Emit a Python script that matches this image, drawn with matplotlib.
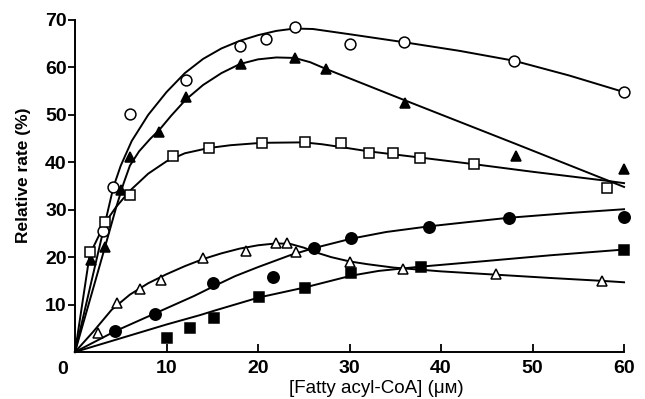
import matplotlib
matplotlib.use("Agg")
import matplotlib.pyplot as plt

plt.rcParams['font.family'] = ['Liberation Sans', 'DejaVu Sans']

# measured points (x = fatty acyl-CoA in uM, y = relative rate %)
oc_x = [3.1, 4.2, 6.0, 12.1, 18.0, 20.9, 24.0, 30.0, 36.0, 48.0, 60.0]
oc_y = [25.6, 34.7, 50.1, 57.3, 64.5, 65.9, 68.5, 65.0, 65.3, 61.4, 54.8]

ft_x = [1.8, 3.3, 5.0, 6.0, 9.2, 12.1, 18.1, 24.0, 27.4, 36.1, 48.2, 60.0]
ft_y = [19.5, 22.2, 34.2, 41.2, 46.4, 53.7, 60.7, 61.9, 59.7, 52.4, 41.4, 38.6]

os_x = [1.6, 3.3, 6.0, 10.7, 14.6, 20.4, 25.1, 29.1, 32.1, 34.7, 37.7, 43.6, 58.1]
os_y = [21.0, 27.5, 33.1, 41.3, 43.0, 44.0, 44.3, 44.0, 42.0, 42.0, 41.0, 39.6, 34.6]

ot_x = [2.5, 4.6, 7.1, 9.4, 14.0, 18.7, 22.0, 23.2, 24.2, 30.0, 35.8, 46.0, 57.6]
ot_y = [4.1, 10.3, 13.2, 15.2, 19.8, 21.2, 22.9, 22.9, 21.0, 18.9, 17.6, 16.4, 15.0]

fc_x = [4.4, 8.7, 15.1, 21.6, 26.1, 30.2, 38.7, 47.4, 60.0]
fc_y = [4.5, 8.0, 14.5, 15.9, 22.0, 24.0, 26.4, 28.3, 28.5]

fs_x = [10.1, 12.6, 15.2, 20.1, 25.1, 30.2, 37.8, 60.0]
fs_y = [2.9, 5.1, 7.2, 11.5, 13.4, 16.6, 18.0, 21.5]

# hand drawn fit curves
oc_fit_x = [0, 3.1, 4.2, 5, 6.2, 8, 10, 12, 14, 16, 18, 20, 22, 24, 26, 30, 36, 42, 48, 54, 60]
oc_fit_y = [0, 25.7, 34.8, 39.3, 44.5, 50, 54.8, 58.8, 61.8, 64, 65.6, 66.8, 67.7, 68.2, 68.1, 67, 65.3, 63.5, 61.4, 58.3, 54.8]

ft_fit_x = [0, 2, 3.3, 4.5, 5.3, 6, 7, 8.2, 9.2, 10.5, 12.1, 14, 16, 18, 20, 22, 24, 25.7, 27.4, 36, 48, 60]
ft_fit_y = [0, 13.5, 22.3, 30.5, 35.5, 39.3, 42.3, 44.9, 46.8, 49.8, 53.2, 56.3, 58.8, 60.7, 61.7, 62.1, 62, 61.1, 59.7, 53.1, 44, 34.8]

os_fit_x = [0, 1.6, 3.3, 4.5, 6, 8, 10, 12, 14.6, 17, 20.4, 25, 27, 29.1, 32.1, 37.7, 43.6, 50, 58.1, 60]
os_fit_y = [0, 20.5, 27.3, 30.6, 34, 37.6, 40.2, 41.9, 43, 43.6, 44.1, 44.2, 43.8, 43.2, 42.3, 41, 39.6, 38, 36.1, 35.6]

ot_fit_x = [0, 2, 4, 6, 8, 10, 12, 14, 16, 18, 20, 22, 23.5, 25, 26.5, 28, 30, 32, 34.8, 40, 46, 52, 57.6, 60]
ot_fit_y = [0, 4.3, 8.9, 12.1, 14.5, 16.4, 18.1, 19.6, 20.8, 21.8, 22.5, 22.9, 22.8, 22, 20.9, 20, 19.1, 18.5, 17.8, 17, 16.3, 15.6, 15, 14.7]

fc_fit_x = [0, 4.4, 8.7, 13, 15.1, 17.5, 20, 23.5, 26.1, 30.2, 34, 38.7, 43, 47.4, 54, 60]
fc_fit_y = [0, 4.4, 8.1, 11.8, 13.8, 16, 17.9, 20.4, 21.9, 23.9, 25.3, 26.5, 27.4, 28.3, 29.3, 30.1]

fs_fit_x = [0, 5, 10, 13.7, 15.2, 20.1, 25.1, 30.2, 33.2, 37.8, 45, 52, 60]
fs_fit_y = [0, 2.9, 5.8, 7.8, 8.7, 11.5, 13.6, 16.1, 17.1, 18, 19.2, 20.4, 21.6]

fig = plt.figure(figsize=(6.45, 3.99), dpi=100)
ax = fig.add_axes([0.1163, 0.1178, 0.8512, 0.8321])

for fx, fy in [(oc_fit_x, oc_fit_y), (ft_fit_x, ft_fit_y), (os_fit_x, os_fit_y),
               (ot_fit_x, ot_fit_y), (fc_fit_x, fc_fit_y), (fs_fit_x, fs_fit_y)]:
    ax.plot(fx, fy, color='black', lw=1.4, zorder=2, clip_on=False)

mk = dict(ls='none', mec='black', mew=1.1, clip_on=False, zorder=3)
ax.plot(oc_x, oc_y, marker='o', ms=7.8, mfc='white', **mk)
ax.plot(ft_x, ft_y, marker='^', ms=7.8, mfc='black', **mk)
ax.plot(os_x, os_y, marker='s', ms=7.8, mfc='white', **mk)
ax.plot(ot_x, ot_y, marker='^', ms=7.8, mfc='white', **mk)
ax.plot(fc_x, fc_y, marker='o', ms=8.2, mfc='black', **mk)
ax.plot(fs_x, fs_y, marker='s', ms=7.8, mfc='black', **mk)

ax.set_xlim(0, 60)
ax.set_ylim(0, 70)
ax.spines['top'].set_visible(False)
ax.spines['right'].set_visible(False)
ax.spines['left'].set_linewidth(1.4)
ax.spines['bottom'].set_linewidth(1.4)

ax.set_xticks(range(10, 61, 10))
ax.set_yticks(range(10, 71, 10))
ax.tick_params(axis='x', direction='in', length=6, width=1.3, pad=6, labelsize=14)
ax.tick_params(axis='y', direction='out', length=5, width=1.3, pad=1, labelsize=14)
for lab in ax.get_xticklabels() + ax.get_yticklabels():
    lab.set_fontweight('bold')

ax.text(-0.022, -0.026, '0', transform=ax.transAxes, ha='center', va='top',
        fontsize=14, fontweight='bold')

ax.text(0.548, -0.083, '[Fatty acyl-CoA] (\u03bc\u1d0d)', transform=ax.transAxes,
        ha='center', va='top', fontsize=13.5)
ax.text(-0.094, 0.533, 'Relative rate (%)', transform=ax.transAxes, rotation=90,
        ha='center', va='center', fontsize=12.5, fontweight='bold')

fig.savefig('out.png', dpi=100)
